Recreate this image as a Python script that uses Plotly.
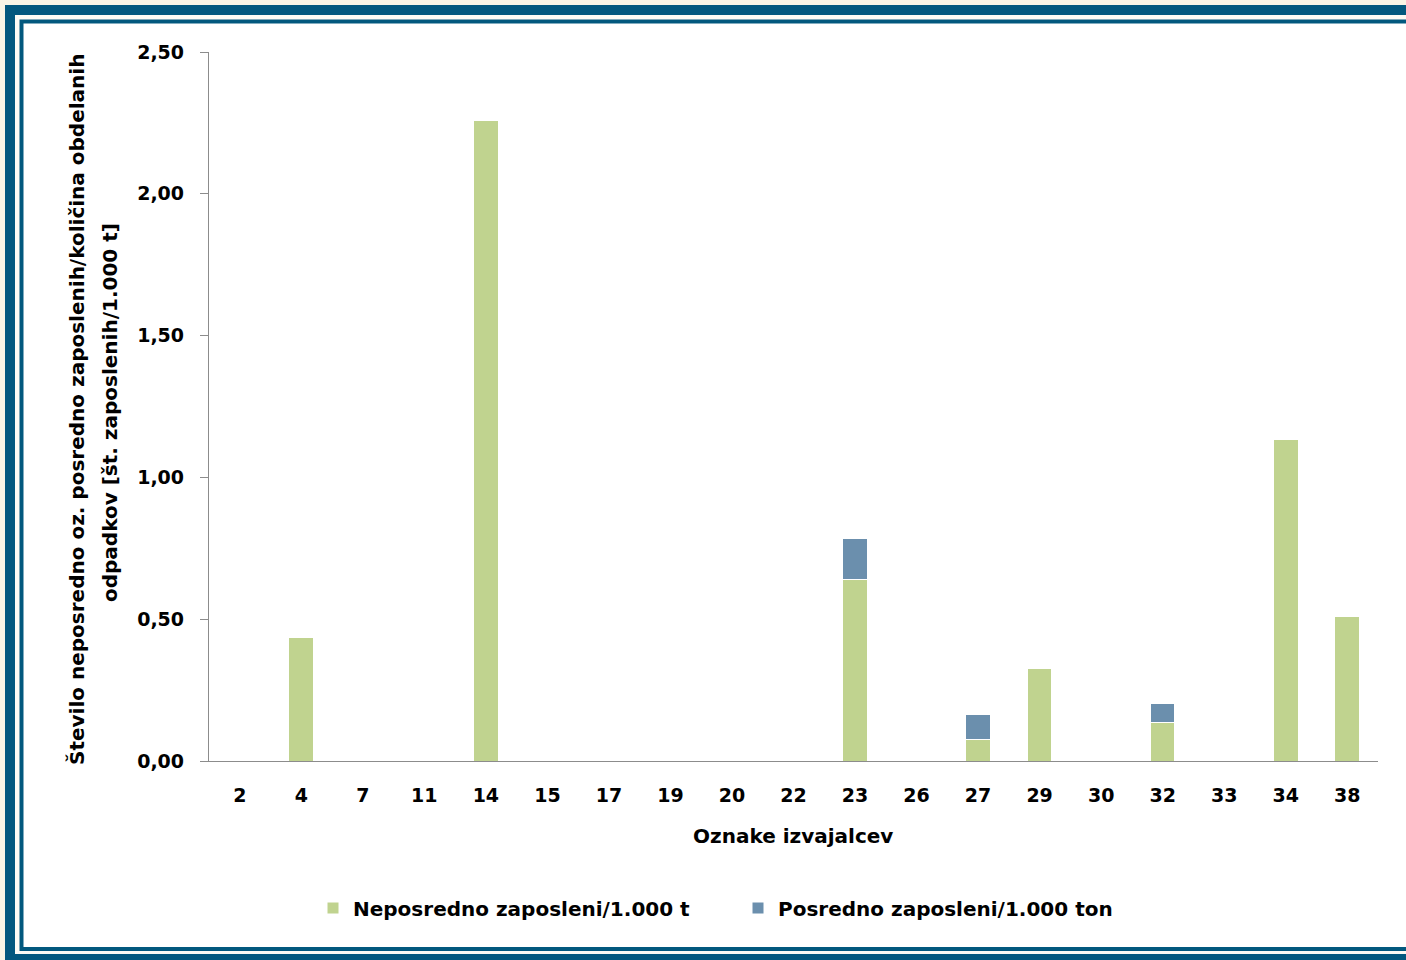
import plotly.graph_objects as go

categories = ["2", "4", "7", "11", "14", "15", "17", "19", "20", "22", "23", "26", "27", "29", "30", "32", "33", "34", "38"]
neposredno = [0, 0.434, 0, 0, 2.26, 0, 0, 0, 0, 0, 0.641, 0, 0.077, 0.326, 0, 0.136, 0, 1.132, 0.511]
posredno = [0, 0, 0, 0, 0, 0, 0, 0, 0, 0, 0.145, 0, 0.087, 0, 0, 0.067, 0, 0, 0]
y_ticks = [0, 0.5, 1.0, 1.5, 2.0, 2.5]

W, H = 1406, 960
L, R, T, B = 209, 1378, 52, 761
FONT = "DejaVu Sans"
TXT = "#000000"
FS = 20
FT = 19

def px(x):
    return (x - L) / (R - L)

def py(y):
    return (B - y) / (B - T)

fig = go.Figure()
fig.add_trace(go.Bar(x=categories, y=neposredno, name="Neposredno zaposleni/1.000 t",
                     marker=dict(color="#c0d38f", line=dict(color="#ffffff", width=1))))
fig.add_trace(go.Bar(x=categories, y=posredno, name="Posredno zaposleni/1.000 ton",
                     marker=dict(color="#6b8fad", line=dict(color="#ffffff", width=1))))

shapes = []
def rect(x0, y0, x1, y1, color):
    shapes.append(dict(type="rect", xref="paper", yref="paper", layer="below",
                       x0=px(x0), x1=px(x1), y0=py(y1), y1=py(y0),
                       fillcolor=color, line=dict(width=0)))
rect(-10, -10, 1420, 970, "#f8f5e6")
rect(5, 5, 1420, 960, "#02587e")
rect(15, 15, 1420, 954, "#fbfbf4")
rect(19.5, 19.5, 1420, 951, "#02587e")
rect(23.5, 23.5, 1420, 947, "#ffffff")

bold = dict(family=FONT, color=TXT, weight="bold")
annotations = [
    dict(text="Število neposredno oz. posredno zaposlenih/količina obdelanih", textangle=-90,
         xref="paper", yref="paper", x=px(77), y=py(410), showarrow=False,
         font=dict(size=FS, **bold), xanchor="center", yanchor="middle"),
    dict(text="odpadkov [št. zaposlenih/1.000 t]", textangle=-90,
         xref="paper", yref="paper", x=px(110), y=py(413), showarrow=False,
         font=dict(size=FS, **bold), xanchor="center", yanchor="middle"),
    dict(text="Oznake izvajalcev", xref="paper", yref="paper", x=px(793), y=py(836),
         showarrow=False, font=dict(size=FS, **bold), xanchor="center", yanchor="middle"),
]

fig.update_layout(
    width=W, height=H,
    margin=dict(l=L, r=W - R, t=T, b=H - B, autoexpand=False),
    barmode="stack", bargap=0.6,
    separators=",.",
    paper_bgcolor="#f8f5e6", plot_bgcolor="rgba(0,0,0,0)",
    font=dict(size=FS, **bold),
    shapes=shapes, annotations=annotations,
    showlegend=True,
    legend=dict(orientation="h", xref="container", yref="container", x=313 / 1406, y=1 - 908 / 960,
                xanchor="left", yanchor="middle", bgcolor="rgba(0,0,0,0)",
                entrywidth=380, entrywidthmode="pixels",
                font=dict(size=FS, **bold), itemwidth=30, traceorder="normal"),
    xaxis=dict(type="category", showline=True, linecolor="#8c8c8c", linewidth=1.3,
               ticks="outside", ticklen=17, tickcolor="rgba(0,0,0,0)",
               tickfont=dict(size=FT, **bold), showgrid=False, zeroline=False),
    yaxis=dict(range=[0, 2.5], tickvals=y_ticks, tickformat=".2f", showline=True,
               linecolor="#8c8c8c", linewidth=1.3, ticks="outside", ticklen=8, tickcolor="#8c8c8c",
               tickfont=dict(size=FT, **bold), showgrid=False, zeroline=False,
               ticklabelstandoff=12),
)

fig.write_html("out.html", config={"displayModeBar": False},
               post_script="document.body.style.margin='0';document.body.style.padding='0';")
